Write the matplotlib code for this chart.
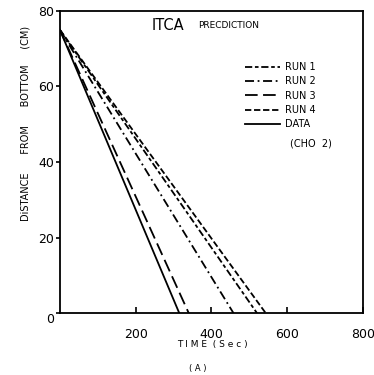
import numpy as np
import matplotlib
matplotlib.use("Agg")
import matplotlib.pyplot as plt

# curves: (time at start, time at bottom), all start at 75 cm
labels = ["RUN 1", "RUN 2", "RUN 3", "RUN 4", "DATA"]
t_start = [0, 0, 0, 0, 0]
t_end = [520, 458, 340, 543, 315]
d_start = [75, 75, 75, 75, 75]
d_end = [0, 0, 0, 0, 0]
styles = [(0, (4, 1.5, 2, 1.5)), (0, (5, 2, 1, 2)), (0, (7, 3)), (0, (3.5, 1.5)), "-"]

xticks = [0, 200, 400, 600, 800]
yticks = [0, 20, 40, 60, 80]

plt.rcParams["font.family"] = ["DejaVu Sans"]

fig = plt.figure(figsize=(3.74, 3.75), dpi=100)
ax = fig.add_axes([0.16, 0.165, 0.811, 0.806])

handles = []
for i in range(len(labels)):
    h, = ax.plot([t_start[i], t_end[i]], [d_start[i], d_end[i]], color="black",
                 lw=1.3, linestyle=styles[i], label=labels[i])
    handles.append(h)

ax.set_xlim(0, 800)
ax.set_ylim(0, 80)
ax.set_xticks(xticks[1:])
ax.set_xticklabels([str(v) for v in xticks[1:]])
ax.set_yticks(yticks)
ax.set_yticklabels([str(v) for v in yticks])
ax.tick_params(axis="x", direction="in", length=4, width=1.2, pad=11, labelsize=9)
ax.tick_params(axis="y", direction="out", length=3, width=1.2, pad=1, labelsize=9)
ax.get_yticklabels()[0].set_va("top")
for sp in ax.spines.values():
    sp.set_linewidth(1.3)

leg = ax.legend(handles=handles, loc="upper left", bbox_to_anchor=(0.58, 0.86),
                frameon=False, fontsize=7, handlelength=3.6, labelspacing=0.45,
                handletextpad=0.6)

ax.text(0.41, 0.95, "ITCA", transform=ax.transAxes, fontsize=10.5, ha="right", va="center")
ax.text(0.455, 0.95, "PRECDICTION", transform=ax.transAxes, fontsize=6.5, ha="left", va="center")
ax.text(0.76, 0.56, "(CHO  2)", transform=ax.transAxes, fontsize=7, ha="left", va="center")

fig.text(0.567, 0.08, "T I M E  ( S e c )", fontsize=6.5, ha="center", va="center")
fig.text(0.53, 0.018, "( A )", fontsize=6, ha="center", va="center")
fig.text(0.067, 0.672, "DiSTANCE      FROM      BOTTOM     (CM)", fontsize=7,
         rotation=90, ha="center", va="center")

fig.savefig("out.png", dpi=100)
